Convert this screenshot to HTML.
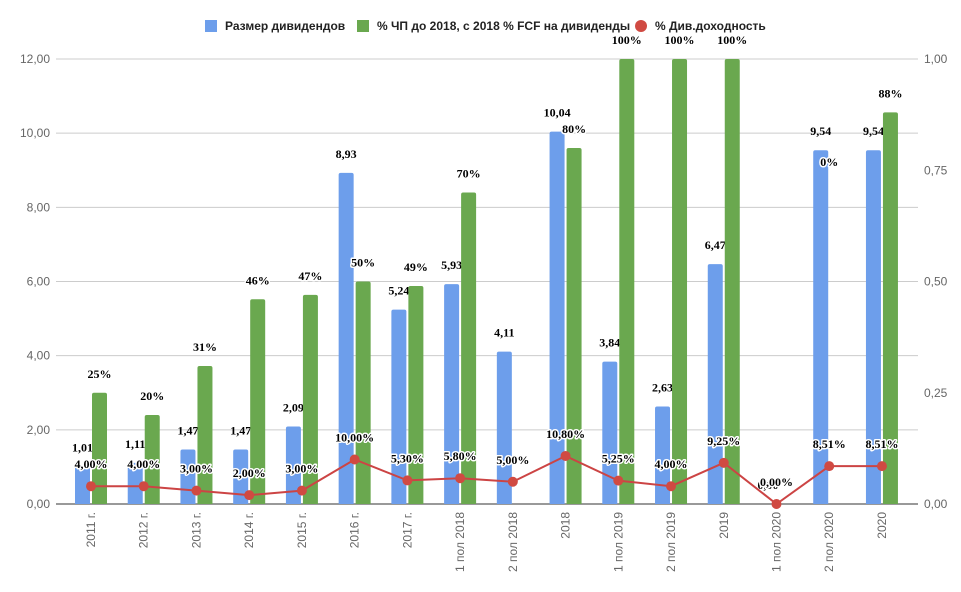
<!DOCTYPE html>
<html><head><meta charset="utf-8">
<style>
body{margin:0;background:#fff;}
svg{display:block;font-family:"Liberation Sans",sans-serif;}
.tick{fill:#666;font-size:12px;}
.lbl{font-family:"Liberation Serif",serif;font-weight:bold;font-size:12px;fill:#000;text-anchor:middle;}
.halo{stroke:#fff;stroke-width:3;paint-order:stroke;stroke-linejoin:round;}
.leg{font-size:12px;font-weight:bold;fill:#222;}
</style></head>
<body>
<svg id="chart" width="961" height="592"></svg>
<script>
const categories=["2011 г.","2012 г.","2013 г.","2014 г.","2015 г.","2016 г.","2017 г.","1 пол 2018","2 пол 2018","2018","1 пол 2019","2 пол 2019","2019","1 пол 2020","2 пол 2020","2020"];
const dividends=[1.01,1.11,1.47,1.47,2.09,8.93,5.24,5.93,4.11,10.04,3.84,2.63,6.47,0,9.54,9.54];
const payoutPct=[25,20,31,46,47,50,49,70,null,80,100,100,100,null,0,88];
const yieldPct=[4,4,3,2,3,10,5.3,5.8,5,10.8,5.25,4,9.25,0,8.51,8.51];
const leftTicks=[0,2,4,6,8,10,12];
const rightTicks=[0,0.25,0.5,0.75,1];

const NS="http://www.w3.org/2000/svg";
const svg=document.getElementById('chart');
function mk(tag,attrs,parent){const e=document.createElementNS(NS,tag);for(const k in attrs)e.setAttribute(k,attrs[k]);(parent||svg).appendChild(e);return e;}
const X0=56,X1=918,Y0=504,Y1=59;
const yL=v=>Y0-(v/12)*(Y0-Y1);
const yR=v=>Y0-v*(Y0-Y1);
const xC=i=>91+i*52.73;
const fmt=(v,d)=>v.toFixed(d).replace('.',',');

leftTicks.forEach(t=>{
  const g=mk('line',{x1:X0,x2:X1,y1:yL(t),y2:yL(t),stroke:t===0?'#333':'#ccc','stroke-width':1});
  
  
  const tx=mk('text',{x:50,y:yL(t)+4,'text-anchor':'end',class:'tick'});
  tx.textContent=fmt(t,2);
  
  
});
rightTicks.forEach(t=>{
  const tx=mk('text',{x:924,y:yR(t)+4,class:'tick'});
  tx.textContent=fmt(t,2);
  
  
});
function bar(x,w,top,color){
  const h=Y0-top;if(h<=0)return null;
  const r=Math.min(2,h);
  return mk('path',{d:`M${x},${Y0}V${top+r}Q${x},${top} ${x+r},${top}H${x+w-r}Q${x+w},${top} ${x+w},${top+r}V${Y0}Z`,fill:color});
}
categories.forEach((c,i)=>{
  const cx=xC(i);
  const b=bar(cx-16,15,yL(dividends[i]),'#6d9eeb');
  if(b){}
  const bl=mk('text',{x:cx-8.5,y:yL(dividends[i])-15,class:'lbl'});
  bl.textContent=fmt(dividends[i],2);
  
  
  if(payoutPct[i]!==null){
    const p=payoutPct[i];
    const g=bar(cx+1,15,yR(p/100),'#6aa84f');
    if(g){}
    const ly=p===0?yL(dividends[i])+16:yR(p/100)-15;
    const gl=mk('text',{x:p===0?cx:cx+8.5,y:ly,class:'lbl halo'});
    gl.textContent=p+'%';
    
    
  }
  const tl=mk('text',{x:0,y:0,class:'tick','text-anchor':'end',transform:`translate(${cx+4},512) rotate(-90)`});
  tl.textContent=c;
  
  
});
const pts=yieldPct.map((v,i)=>`${xC(i)},${yR(v/100)}`).join(' ');
const pl=mk('polyline',{points:pts,fill:'none',stroke:'#cc4444','stroke-width':2});


yieldPct.forEach((v,i)=>{
  const d=mk('circle',{cx:xC(i),cy:yR(v/100),r:5,fill:'#d04a42'});
  
  
  const t=mk('text',{x:xC(i),y:yR(v/100)-18,class:'lbl halo'});
  t.textContent=fmt(v,2)+'%';
  
  
});
</script>
<svg style="position:absolute;left:0;top:0" width="961" height="40">
<g><rect x="205" y="20" width="12" height="12" fill="#6d9eeb"/><text x="225" y="30" class="leg">Размер дивидендов</text></g>
<g><rect x="357" y="20" width="12" height="12" fill="#6aa84f"/><text x="377" y="30" class="leg">% ЧП до 2018, с 2018 % FCF на дивиденды</text></g>
<g><circle cx="641" cy="26" r="6" fill="#d04a42"/><text x="655" y="30" class="leg">% Див.доходность</text></g>
</svg>
</body></html>
